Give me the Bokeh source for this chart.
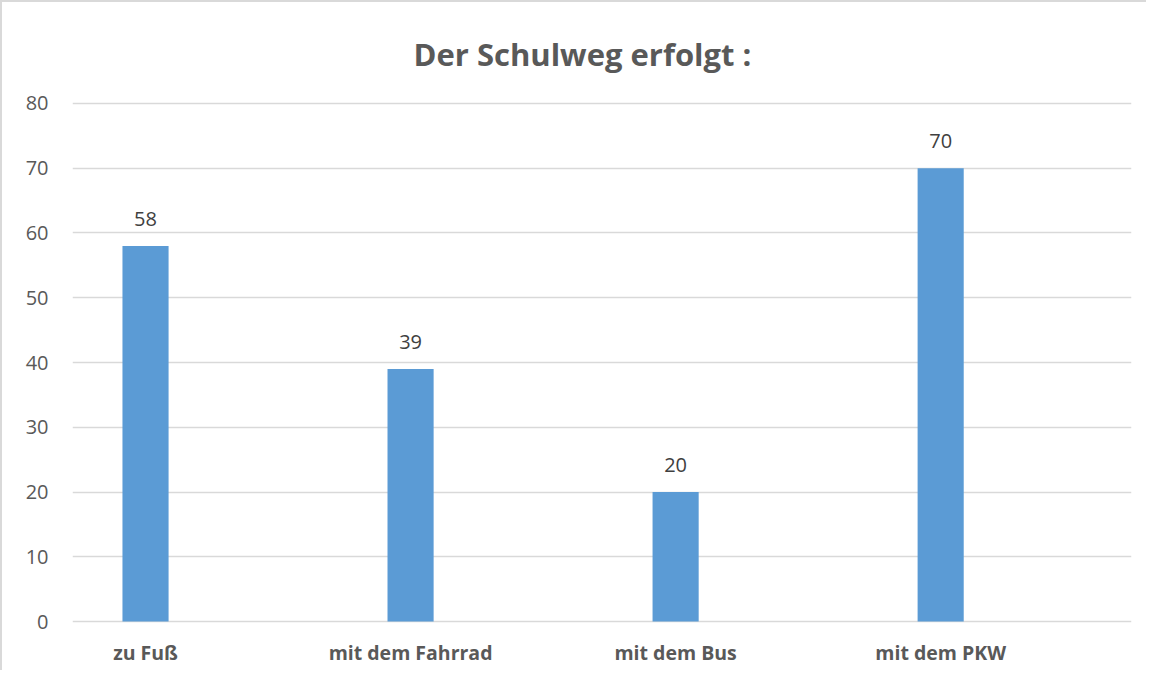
from bokeh.plotting import figure
from bokeh.models import ColumnDataSource, FixedTicker, LabelSet
from bokeh.core.properties import value
from bokeh.embed import file_html
from bokeh.resources import INLINE

categories = ["zu Fuß", "mit dem Fahrrad", "mit dem Bus", "mit dem PKW"]
values = [58, 39, 20, 70]
y_ticks = [0, 10, 20, 30, 40, 50, 60, 70, 80]

xs = list(range(len(categories)))
src = ColumnDataSource(dict(x=xs, top=values, label=[str(v) for v in values]))

FONT = "Open Sans"

p = figure(width=1146, height=670, output_backend="svg", toolbar_location=None,
           x_range=(-0.2755, 3.72), y_range=(-0.3, 80.46),
           min_border_left=70, min_border_right=17, min_border_top=98, min_border_bottom=49)

p.title.text = "Der Schulweg erfolgt :"
p.title.align = "left"
p.title.text_font = FONT
p.title.text_font_size = "31px"
p.title.text_font_style = "bold"
p.title.text_color = "#595959"
p.title.offset = 341
p.title.standoff = 51

p.vbar(x="x", top="top", width=0.174, bottom=0, source=src,
       fill_color="#5b9bd5", line_color=None)

labels = LabelSet(x="x", y="top", text="label", source=src, y_offset=20,
                  text_align="center", text_baseline="bottom",
                  text_font=value(FONT), text_font_size="20px", text_color="#404040")
p.add_layout(labels)

p.xaxis.ticker = FixedTicker(ticks=xs)
p.xaxis.major_label_overrides = {i: c for i, c in zip(xs, categories)}
p.xaxis.major_label_text_font = FONT
p.xaxis.major_label_text_font_size = "19.5px"
p.xaxis.major_label_text_font_style = "bold"
p.xaxis.major_label_text_color = "#595959"
p.xaxis.major_label_standoff = 9
p.xaxis.axis_line_color = None
p.xaxis.major_tick_line_color = None
p.xaxis.minor_tick_line_color = None

p.yaxis.ticker = FixedTicker(ticks=y_ticks)
p.yaxis.major_label_text_font = FONT
p.yaxis.major_label_text_font_size = "20px"
p.yaxis.major_label_text_color = "#595959"
p.yaxis.major_label_standoff = 18
p.yaxis.axis_line_color = None
p.yaxis.major_tick_line_color = None
p.yaxis.minor_tick_line_color = None

p.xgrid.grid_line_color = None
p.ygrid.grid_line_color = "#d9d9d9"
p.ygrid.grid_line_width = 1.5
p.outline_line_color = None
p.styles = {"border-left": "2px solid #d9d9d9", "border-top": "2px solid #d9d9d9"}

open("out.html", "w").write(file_html(p, INLINE))
